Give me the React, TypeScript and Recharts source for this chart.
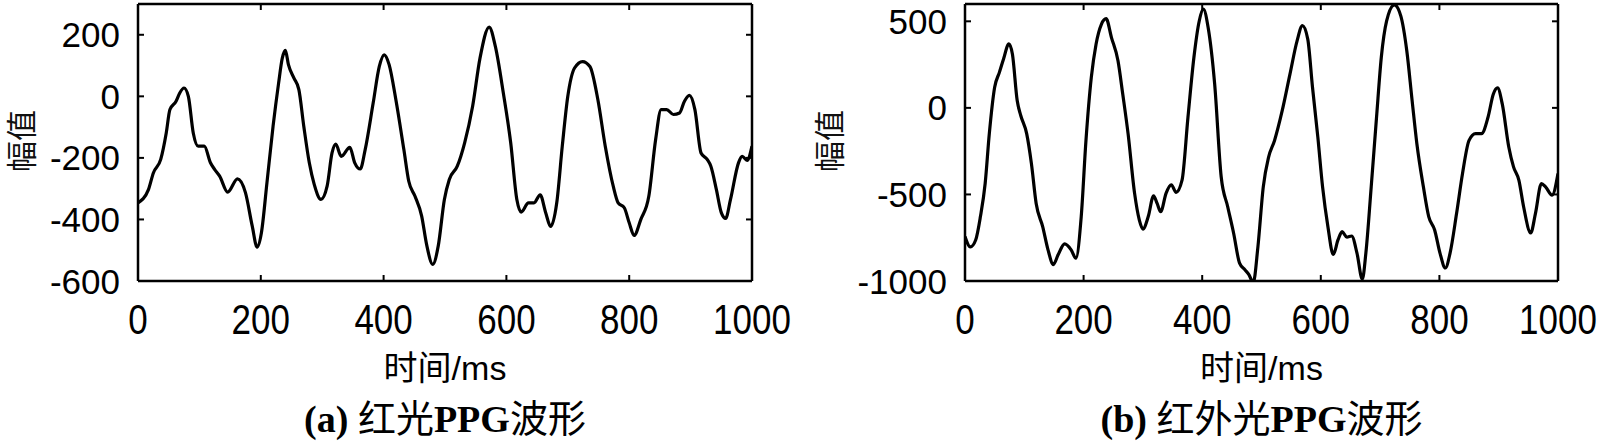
import React from 'react';
import { LineChart, Line, XAxis, YAxis } from 'recharts';

// red light PPG (panel a)
const redTime = [0, 17, 25, 37, 46, 52, 62, 68, 75, 82, 90, 98, 108, 118, 125, 133, 146, 162, 175, 186, 194, 201, 210, 220, 229, 235, 240, 245, 254, 262, 270, 279, 287, 298, 308, 316, 322, 331, 345, 353, 362, 370, 383, 393, 401, 409, 420, 433, 441, 451, 462, 470, 480, 489, 499, 507, 520, 532, 545, 557, 572, 582, 595, 607, 617, 624, 636, 645, 655, 664, 672, 682, 691, 700, 711, 724, 736, 749, 761, 774, 782, 792, 800, 808, 819, 832, 843, 852, 861, 872, 882, 890, 898, 907, 917, 927, 933, 942, 950, 957, 965, 978, 984, 992, 1000];
const redAmp = [-346, -303, -249, -205, -119, -43, -16, 11, 27, 0, -119, -162, -162, -216, -238, -259, -311, -268, -313, -421, -490, -443, -281, -97, 43, 124, 149, 103, 59, 22, -97, -216, -286, -335, -292, -184, -155, -195, -166, -216, -236, -173, -22, 97, 135, 103, -11, -173, -276, -324, -389, -481, -546, -486, -335, -270, -227, -151, -32, 124, 225, 162, 11, -151, -335, -376, -346, -346, -320, -378, -423, -346, -162, 0, 92, 113, 97, -11, -162, -292, -346, -362, -411, -452, -400, -324, -141, -43, -43, -59, -54, -16, 3, -43, -184, -205, -227, -303, -378, -397, -335, -216, -195, -208, -162];

// infrared PPG (panel b)
const irTime = [0, 9, 18, 26, 34, 41, 50, 58, 65, 74, 80, 88, 94, 104, 112, 120, 131, 140, 149, 157, 168, 179, 187, 196, 204, 213, 221, 230, 238, 247, 258, 266, 275, 286, 294, 300, 309, 318, 324, 330, 339, 348, 356, 366, 376, 386, 395, 402, 410, 421, 432, 443, 453, 463, 472, 479, 486, 494, 503, 512, 522, 535, 548, 560, 569, 578, 586, 595, 603, 612, 621, 629, 636, 644, 652, 661, 670, 676, 685, 694, 702, 711, 724, 735, 745, 754, 762, 773, 782, 792, 801, 810, 818, 829, 839, 850, 861, 871, 882, 891, 898, 906, 917, 925, 934, 942, 954, 962, 972, 979, 990, 1000];
const irAmp = [-743, -803, -763, -628, -437, -149, 119, 205, 282, 370, 310, 42, -44, -149, -322, -552, -686, -820, -905, -849, -786, -820, -868, -628, -188, 176, 368, 483, 515, 406, 272, 80, -149, -494, -648, -700, -628, -508, -552, -600, -494, -445, -488, -418, -54, 291, 502, 570, 464, 138, -398, -571, -724, -897, -935, -964, -1010, -801, -456, -284, -188, -15, 195, 387, 475, 397, 119, -169, -456, -686, -847, -763, -715, -747, -740, -839, -990, -839, -456, -54, 291, 502, 595, 530, 330, 42, -207, -456, -628, -705, -839, -925, -839, -609, -379, -188, -149, -149, -54, 80, 115, 23, -226, -341, -418, -571, -722, -609, -437, -456, -504, -379];

const timeTicks = [0, 200, 400, 600, 800, 1000];
const redTicks = [-600, -400, -200, 0, 200];
const irTicks = [-1000, -500, 0, 500];

const tickFont = '"Liberation Sans", Arial, sans-serif';
const cjkFont = '"Liberation Sans", Arial, "Noto Sans CJK SC", sans-serif';
const capFont = '"Liberation Serif", "Times New Roman", "Noto Sans CJK SC", serif';
const axisStyle = { stroke: '#000', strokeWidth: 2.5 };

const BottomTick = (props: any) => {
  const { x, y, payload } = props;
  return (
    <g>
      <line x1={x} y1={y} x2={x} y2={y - 6} stroke="#000" strokeWidth={2} />
      <text transform={`translate(${x},${y + 53}) scale(1,1.2)`} textAnchor="middle" fontSize={35} fontFamily={tickFont} fill="#000">
        {payload.value}
      </text>
    </g>
  );
};

const TopTick = (props: any) => {
  const { x, y } = props;
  return <line x1={x} y1={y} x2={x} y2={y + 6} stroke="#000" strokeWidth={2} />;
};

const LeftTick = (props: any) => {
  const { x, y, payload } = props;
  return (
    <g>
      <line x1={x} y1={y} x2={x + 6} y2={y} stroke="#000" strokeWidth={2} />
      <text x={x - 18} y={y + 12.5} textAnchor="end" fontSize={35} fontFamily={tickFont} fill="#000">
        {payload.value}
      </text>
    </g>
  );
};

const RightTick = (props: any) => {
  const { x, y } = props;
  return <line x1={x} y1={y} x2={x - 6} y2={y} stroke="#000" strokeWidth={2} />;
};

interface PanelProps {
  left: number;
  axisWidth: number;
  rightGap: number;
  labelX: number;
  time: number[];
  amp: number[];
  domain: [number, number];
  ticks: number[];
  tag: string;
  cnHead: string;
}

const Panel: React.FC<PanelProps> = ({ left, axisWidth, rightGap, labelX, time, amp, domain, ticks, tag, cnHead }) => {
  const data = time.map((t, i) => ({ t, v: amp[i] }));
  const plotLeft = left + axisWidth;
  const plotRight = left + 800 - rightGap;
  const center = (plotLeft + plotRight) / 2;

  return (
    <>
      <div style={{ position: 'absolute', left, top: 0 }}>
        <LineChart width={800} height={445} data={data} margin={{ top: 3, right: rightGap - 1, bottom: 163, left: 0 }}>
          <XAxis dataKey="t" type="number" domain={[0, 1000]} ticks={timeTicks} height={1} tickSize={0} tickMargin={0}
            axisLine={axisStyle} tick={<BottomTick />} interval={0} allowDataOverflow />
          <XAxis xAxisId="top" orientation="top" dataKey="t" type="number" domain={[0, 1000]} ticks={timeTicks} height={1}
            tickSize={0} tickMargin={0} axisLine={axisStyle} tick={<TopTick />} interval={0} allowDataOverflow />
          <YAxis type="number" domain={domain} ticks={ticks} width={axisWidth} tickSize={0} tickMargin={0}
            axisLine={axisStyle} tick={<LeftTick />} interval={0} allowDataOverflow />
          <YAxis yAxisId="right" orientation="right" type="number" domain={domain} ticks={ticks} width={1} tickSize={0}
            tickMargin={0} axisLine={axisStyle} tick={<RightTick />} interval={0} allowDataOverflow />
          <Line dataKey="v" type="monotone" stroke="#000" strokeWidth={3.2} dot={false} isAnimationActive={false} />
        </LineChart>
      </div>
      <div style={{ position: 'absolute', left: labelX - 16, top: 108, width: 32, height: 66,
        writingMode: 'vertical-rl', textOrientation: 'sideways', transform: 'rotate(180deg)',
        fontFamily: '"Noto Sans CJK SC", sans-serif', fontSize: 31, lineHeight: '32px', textAlign: 'center',
        whiteSpace: 'nowrap', color: '#111' }}>
        幅值
      </div>
      <div style={{ position: 'absolute', left: center - 200, width: 400, top: 349, textAlign: 'center',
        fontFamily: cjkFont, fontSize: 34, lineHeight: '38px', color: '#000' }}>
        时间/ms
      </div>
      <div style={{ position: 'absolute', left: center - 250, width: 500, top: 397, textAlign: 'center',
        fontFamily: capFont, fontSize: 38, lineHeight: '44px', color: '#000', whiteSpace: 'nowrap' }}>
        <b>{tag}</b> {cnHead}<b>PPG</b>波形
      </div>
    </>
  );
};

const App: React.FC = () => {
  return (
    <div style={{ position: 'absolute', left: 0, top: 0, width: 1600, height: 445, background: '#fff', overflow: 'hidden' }}>
      <Panel left={0} axisWidth={138} rightGap={48} labelX={20} time={redTime} amp={redAmp} domain={[-600, 300]}
        ticks={redTicks} tag="(a)" cnHead="红光" />
      <Panel left={800} axisWidth={165} rightGap={42} labelX={828} time={irTime} amp={irAmp} domain={[-1000, 600]}
        ticks={irTicks} tag="(b)" cnHead="红外光" />
    </div>
  );
};

export default App;
